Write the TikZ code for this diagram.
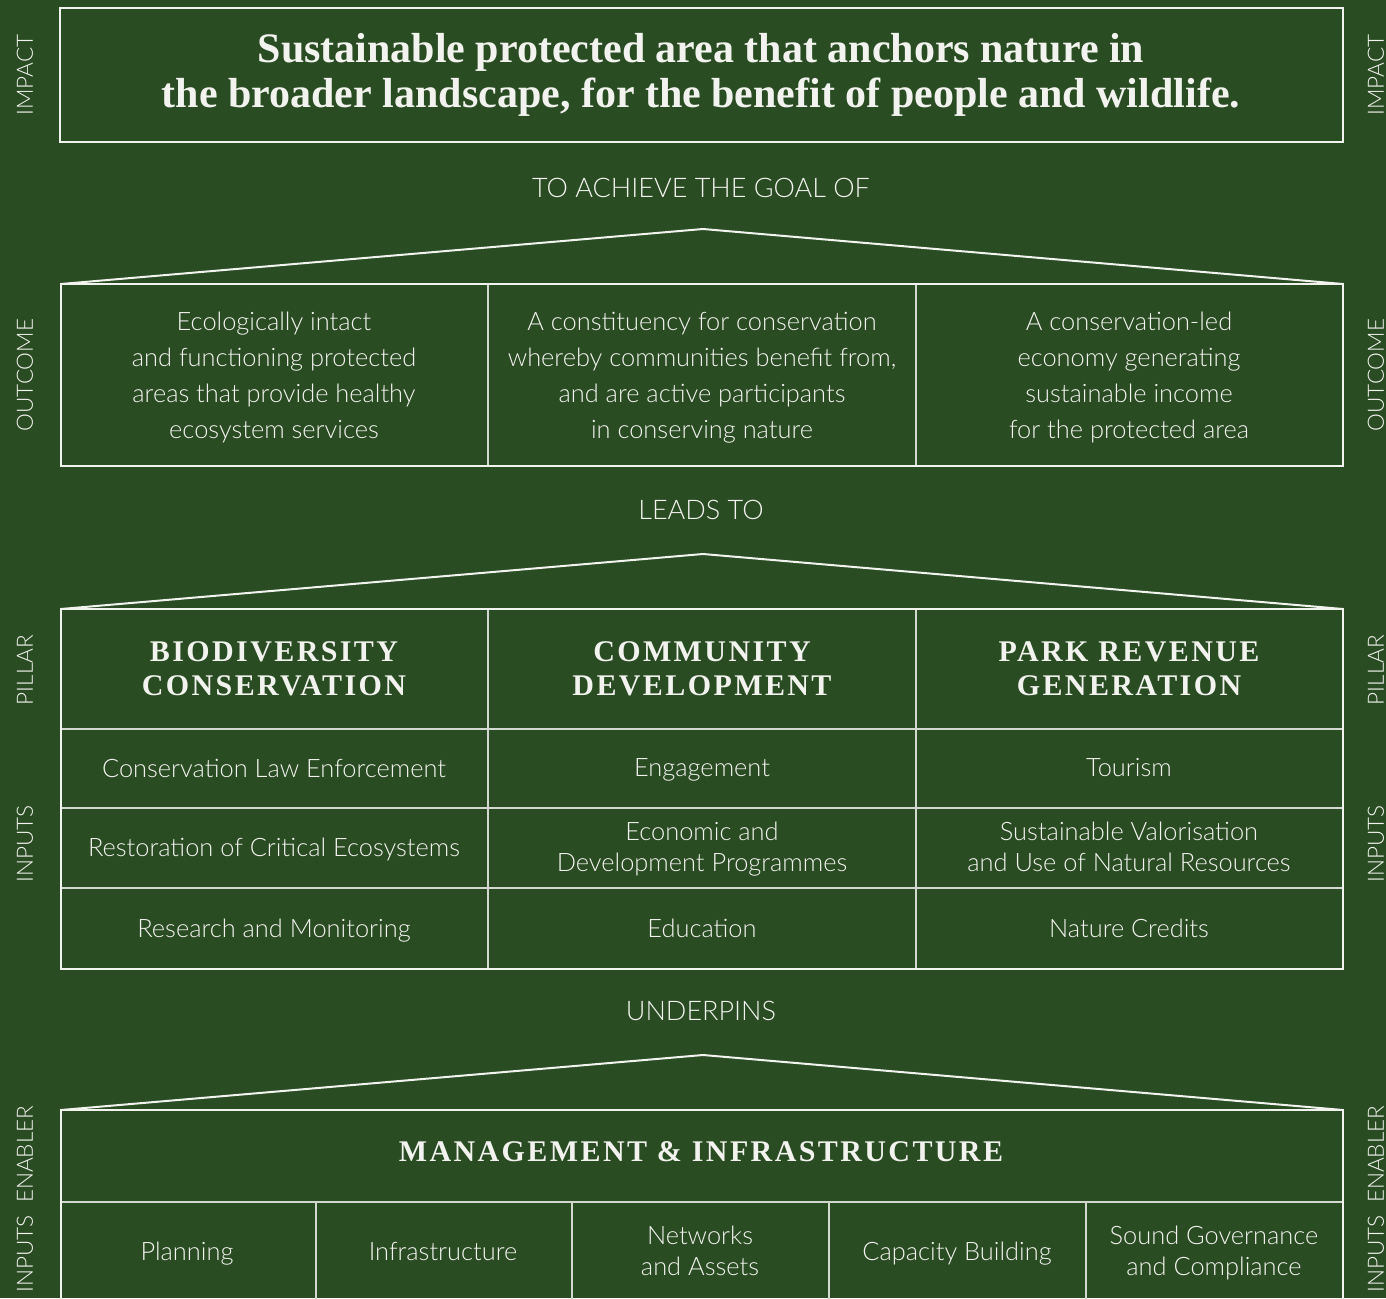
\documentclass[tikz,border=0pt]{standalone}
\usepackage{fontspec}
\setmainfont{Liberation Serif}
\setsansfont{Lato Light}
\definecolor{bg}{HTML}{2A4C23}
\definecolor{fg}{HTML}{F2F3EE}
\definecolor{inner}{HTML}{D3D9D0}
\tikzset{
  outer/.style={draw=fg, line width=2pt},
  inl/.style={draw=inner, line width=1.4pt},
  roof/.style={draw=fg, line width=2pt, line join=miter},
  side/.style={text=fg, rotate=90, font=\sffamily\fontsize{22.5}{24}\selectfont},
  captext/.style={text=fg, text depth=0.2em, font=\sffamily\fontsize{27}{30}\selectfont},
  body/.style={text=fg, align=center, text depth=0.22em, font=\sffamily\fontsize{25.4}{36}\selectfont},
  body2/.style={text=fg, align=center, text depth=0.22em, yshift=-1pt, font=\sffamily\fontsize{25.4}{31}\selectfont},
  head/.style={text=fg, align=center, font=\bfseries\fontsize{30}{34}\selectfont\addfontfeatures{LetterSpace=8}},
}
\begin{document}
\begin{tikzpicture}[x=1pt,y=-1pt]
\fill[bg] (0,0) rectangle (1386,1298);
\useasboundingbox (0,0) rectangle (1386,1298);

% side labels
\foreach \n/\t/\y in {a/IMPACT/75, b/OUTCOME/375, c/PILLAR/670, d/INPUTS/844, e/{INPUTS\ \ ENABLER}/1199}{
  \node[side] (L\n) at (25,\y) {\t};
  \node[side] (R\n) at (1376,\y) {\t};
}

% impact
\draw[outer] (60,8) rectangle (1343,142);
\node[text=fg, align=center, font=\bfseries\fontsize{42}{45}\selectfont] (impact) at (701,75)
  {Sustainable protected area that anchors nature in\\the broader landscape, for the benefit of people and wildlife.};

\node[captext] (goal) at (701,189) {TO ACHIEVE THE GOAL OF};

% roof 1 + outcome
\coordinate (r1l) at (61,284); \coordinate (r1t) at (703,229); \coordinate (r1r) at (1343,284);
\draw[roof] (r1l) -- (r1t) -- (r1r);
\draw[inl] (488,284) -- (488,466) (916,284) -- (916,466);
\draw[outer] (61,284) rectangle (1343,466);
\node[body] (o1) at (274,376) {Ecologically intact\\and functioning protected\\areas that provide healthy\\ecosystem services};
\node[body] (o2) at (702,376) {A constituency for conservation\\whereby communities benefit from,\\and are active participants\\in conserving nature};
\node[body] (o3) at (1129,376) {A conservation-led\\economy generating\\sustainable income\\for the protected area};

\node[captext] (leads) at (701,511) {LEADS TO};

% roof 2 + pillars
\coordinate (r2l) at (61,609); \coordinate (r2t) at (703,554); \coordinate (r2r) at (1343,609);
\draw[roof] (r2l) -- (r2t) -- (r2r);
\draw[inl] (488,609) -- (488,969) (916,609) -- (916,969)
  (61,729) -- (1343,729) (61,808) -- (1343,808) (61,888) -- (1343,888);
\draw[outer] (61,609) rectangle (1343,969);
\node[head] (p1) at (274,669) {BIODIVERSITY\\CONSERVATION};
\node[head] (p2) at (702,669) {COMMUNITY\\DEVELOPMENT};
\node[head] (p3) at (1129,669) {PARK REVENUE\\GENERATION};

\node[body2] (i11) at (274,768) {Conservation Law Enforcement};
\node[body2] (i12) at (702,768) {Engagement};
\node[body2] (i13) at (1129,768) {Tourism};
\node[body2] (i21) at (274,847) {Restoration of Critical Ecosystems};
\node[body2] (i22) at (702,847) {Economic and\\Development Programmes};
\node[body2] (i23) at (1129,847) {Sustainable Valorisation\\and Use of Natural Resources};
\node[body2] (i31) at (274,928) {Research and Monitoring};
\node[body2] (i32) at (702,928) {Education};
\node[body2] (i33) at (1129,928) {Nature Credits};

\node[captext] (under) at (701,1012) {UNDERPINS};

% roof 3 + management
\coordinate (r3l) at (61,1110); \coordinate (r3t) at (703,1055); \coordinate (r3r) at (1343,1110);
\draw[roof] (r3l) -- (r3t) -- (r3r);
\draw[inl] (61,1202) -- (1343,1202);
\draw[inl] (316,1202) -- (316,1300) (572,1202) -- (572,1300) (829,1202) -- (829,1300) (1086,1202) -- (1086,1300);
\draw[outer] (61,1310) -- (61,1110) -- (1343,1110) -- (1343,1310);
\node[head] (mgmt) at (701,1152) {MANAGEMENT \& INFRASTRUCTURE};
\node[body2] (m1) at (187,1251) {Planning};
\node[body2] (m2) at (443,1251) {Infrastructure};
\node[body2] (m3) at (700,1251) {Networks\\and Assets};
\node[body2] (m4) at (957,1251) {Capacity Building};
\node[body2] (m5) at (1214,1251) {Sound Governance\\and Compliance};
\end{tikzpicture}
\end{document}
